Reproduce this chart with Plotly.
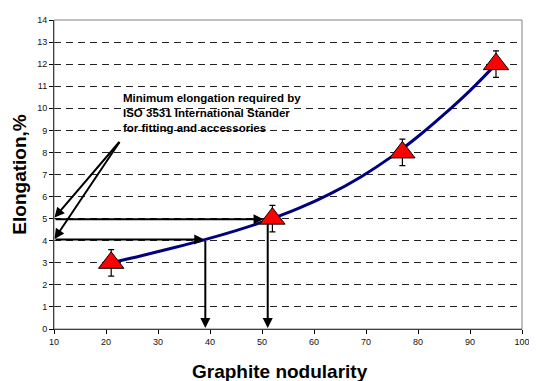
import plotly.graph_objects as go

# Measured data (graphite nodularity vs elongation)
nodularity = [21, 52, 77, 95]
elongation = [3.0, 5.0, 8.0, 12.0]
elong_err = [0.6, 0.6, 0.6, 0.6]

# Fitted trend curve
curve_x = [21, 27, 33, 39, 45, 51, 57, 63, 69, 75, 80, 85, 90, 95]
curve_y = [3.0, 3.33, 3.68, 4.05, 4.46, 4.92, 5.46, 6.11, 6.89, 7.82, 8.72, 9.72, 10.8, 12.0]

# Arrows (tail -> head) in data units
arrow_tail_x = [10, 10, 39.1, 51.1, 22.8, 22.8]
arrow_tail_y = [4.97, 4.06, 4.06, 4.85, 8.54, 8.54]
arrow_head_x = [50.3, 38.9, 39.1, 51.1, 10.1, 10.1]
arrow_head_y = [4.97, 4.06, 0.05, 0.05, 5.05, 4.08]

note_lines = ["Minimum elongation required by",
              "ISO 3531 International Stander",
              "for fitting and accessories"]
note_x, note_y = 22.85, 9.79

x_ticks = [10, 20, 30, 40, 50, 60, 70, 80, 90, 100]
y_ticks = list(range(0, 15))

FONT = "Liberation Sans, Arial, sans-serif"

fig = go.Figure()
fig.add_trace(go.Scatter(
    x=curve_x, y=curve_y, mode="lines",
    line=dict(color="#000080", width=3, shape="spline", smoothing=1.0),
    hoverinfo="skip", showlegend=False))
fig.add_trace(go.Scatter(
    x=nodularity, y=elongation, mode="markers",
    marker=dict(symbol="triangle-up", size=22, color="#FF0000",
                line=dict(color="#000000", width=1)),
    error_y=dict(type="data", array=elong_err, visible=True,
                 color="#000000", thickness=1.2, width=3),
    showlegend=False))

annotations = []
for tx, ty, hx, hy in zip(arrow_tail_x, arrow_tail_y, arrow_head_x, arrow_head_y):
    annotations.append(dict(
        x=hx, y=hy, ax=tx, ay=ty, xref="x", yref="y", axref="x", ayref="y",
        text="", showarrow=True, arrowhead=2, arrowsize=1, arrowwidth=2,
        arrowcolor="#000000", standoff=0, startstandoff=0))

annotations.append(dict(
    x=note_x, y=note_y, xref="x", yref="y", xanchor="left", yanchor="middle",
    text="<br>".join(note_lines), showarrow=False, align="left",
    font=dict(family=FONT, size=11.5, color="#000000", weight="bold")))

annotations.append(dict(
    x=0.482, y=-0.136, xref="paper", yref="paper", xanchor="center", yanchor="middle",
    text="Graphite nodularity", showarrow=False,
    font=dict(family=FONT, size=19, color="#000000", weight="bold")))
annotations.append(dict(
    x=-0.0745, y=0.5, xref="paper", yref="paper", xanchor="center", yanchor="middle",
    text="Elongation,%", showarrow=False, textangle=-90,
    font=dict(family=FONT, size=19, color="#000000", weight="bold")))

# the page adds an 8px body margin, so the figure is sized to fit the window
fig.update_layout(
    width=529, height=373,
    margin=dict(l=46, r=8, t=7, b=52),
    paper_bgcolor="white", plot_bgcolor="white",
    font=dict(family=FONT, size=9, color="#111111"),
    annotations=annotations,
    shapes=[dict(type="rect", xref="paper", yref="paper", x0=0, x1=1, y0=0, y1=1,
                 line=dict(color="#808080", width=1), layer="above")],
    xaxis=dict(range=[10, 100], tickvals=x_ticks, ticks="outside", ticklen=4,
               tickcolor="#000000", showline=True, linecolor="#000000", linewidth=1,
               showgrid=False, zeroline=False, tickfont=dict(size=9)),
    yaxis=dict(range=[0, 14], tickvals=y_ticks, ticks="outside", ticklen=4,
               tickcolor="#000000", showline=True, linecolor="#000000", linewidth=1,
               showgrid=True, gridcolor="#222222", gridwidth=1, griddash="7px,5px",
               zeroline=False, tickfont=dict(size=9)),
)

fig.write_html("out.html")
